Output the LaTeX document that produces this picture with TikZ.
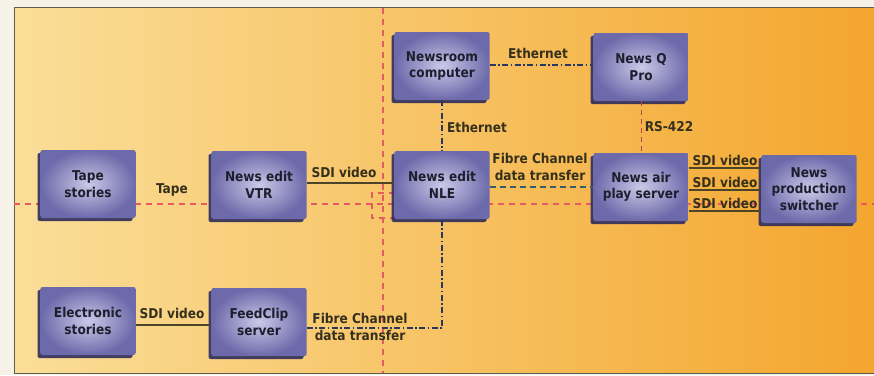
\documentclass[tikz,border=0pt]{standalone}
\usepackage{fontspec}
\setmainfont{DejaVu Sans Condensed}
\usetikzlibrary{shadows}
\definecolor{paper}{RGB}{246,242,232}
\definecolor{bgleft}{RGB}{250,222,152}
\definecolor{bgmid}{RGB}{248,205,112}
\definecolor{bgright}{RGB}{244,166,46}
\definecolor{framecol}{RGB}{90,94,80}
\definecolor{axisred}{RGB}{228,92,98}
\definecolor{boxin}{RGB}{204,200,232}
\definecolor{boxout}{RGB}{108,106,170}
\definecolor{boxshadow}{RGB}{46,44,92}
\definecolor{boxtext}{RGB}{30,30,46}
\definecolor{lbltext}{RGB}{52,48,28}
\definecolor{sdiline}{RGB}{74,68,40}
\definecolor{ethline}{RGB}{40,56,96}
\definecolor{fcline}{RGB}{58,92,104}
\definecolor{rsline}{RGB}{176,72,72}
\begin{document}
\begin{tikzpicture}[x = 1pt, y = -1pt,
	box/.style = {minimum width = 95pt, minimum height = 68pt, align = center, text = boxtext,
		rounded corners = 2pt, inner color = boxin, outer color = boxout,
		font = \fontsize{13.5}{16.5}\selectfont\bfseries,
		drop shadow = {shadow xshift = -3pt, shadow yshift = -3pt, fill = boxshadow, opacity = 0.9}},
	lbl/.style = {align = center, text = lbltext, inner sep = 1pt, font = \fontsize{13.5}{16.5}\selectfont\bfseries},
	axis/.style = {draw = axisred, line width = 1.3pt, dash pattern = on 6pt off 5pt},
	sdi/.style = {draw = sdiline, line width = 1.1pt},
	eth/.style = {draw = ethline, line width = 1.2pt, dash pattern = on 6pt off 2.5pt on 1.5pt off 2.5pt},
	fc/.style = {draw = fcline, line width = 1.2pt, dash pattern = on 6pt off 4pt},
	rs/.style = {draw = rsline, line width = 1pt, dash pattern = on 5pt off 4pt}]
	\useasboundingbox (0, 0) rectangle (874, 375);
	\fill[paper] (0, 0) rectangle (874, 375);
	\shade[left color = bgleft, middle color = bgmid, right color = bgright] (14, 7) rectangle (874, 373);
	\draw[framecol, line width = 0.8pt] (874, 7) -- (14, 7) -- (14, 373) -- (874, 373);
	% quadrant lines
	\draw[axis] (383, 8) -- (383, 373);
	\draw[axis] (14, 204) -- (874, 204);
	\draw[axis] (395, 193) -- (372, 193) -- (372, 218) -- (395, 218);
	% equipment
	\foreach \n/\x/\y/\t in {tape/88/184/{Tape\\stories}, vtr/259/185/{News edit\\VTR},
		nrc/442/66/{Newsroom\\computer}, newsq/641/67/{News Q\\Pro},
		nle/442/185/{News edit\\NLE}, air/641/187/{News air\\play server},
		switch/809/189/{News\\production\\switcher},
		elec/88/321/{Electronic\\stories}, feed/259/322/{FeedClip\\server}}{
		\node[box] (\n) at (\x, \y) {\t};}
	% links
	\draw[sdi] (vtr.east |- 0, 183) -- (nle.west |- 0, 183);
	\draw[eth] (nrc.east |- 0, 65) -- (newsq.west |- 0, 65);
	\draw[eth] (nrc.south) -- (nle.north);
	\draw[rs] (newsq.south) -- (air.north);
	\draw[fc] (nle.east |- 0, 187) -- (air.west |- 0, 187);
	\foreach \y in {168, 190, 211}{
		\draw[sdi] (air.east |- 0, \y) -- (switch.west |- 0, \y);}
	\draw[sdi] (elec.east |- 0, 325) -- (feed.west |- 0, 325);
	\draw[eth] (feed.east |- 0, 328) -| (nle.south);
	% labels
	\node[lbl] (ltape) at (172, 190) {Tape};
	\node[lbl] (lvtr) at (344, 172) {SDI video};
	\node[lbl] (leth1) at (538, 53) {Ethernet};
	\node[lbl] (leth2) at (477, 127) {Ethernet};
	\node[lbl] (lrs) at (669, 127) {RS-422};
	\node[lbl] (lfc1) at (540, 167) {Fibre Channel\\data transfer};
	\foreach \y [count = \k] in {160, 182, 203}{
		\node[lbl] (lsdi\k) at (725, \y) {SDI video};}
	\node[lbl] (lelec) at (172, 313) {SDI video};
	\node[lbl] (lfc2) at (360, 327) {Fibre Channel\\data transfer};
\end{tikzpicture}
\end{document}
